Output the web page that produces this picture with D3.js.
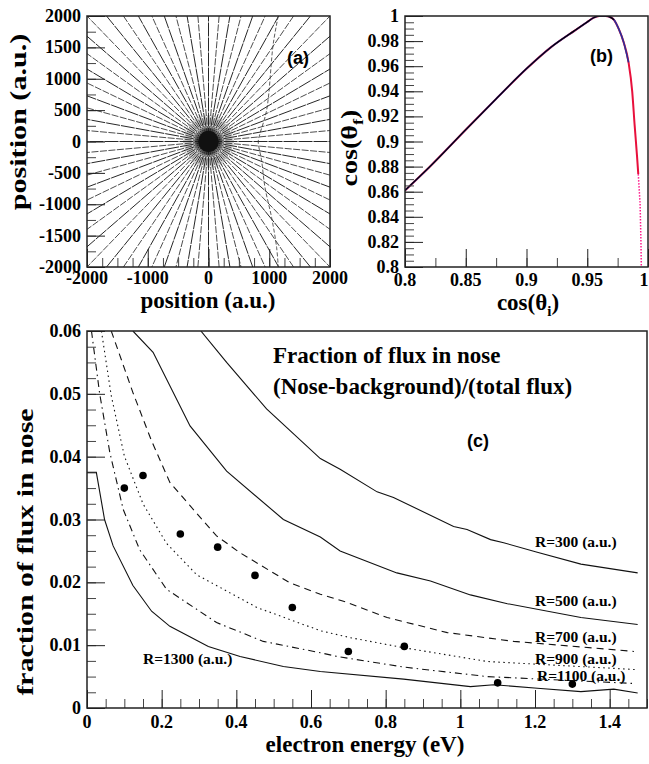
<!DOCTYPE html>
<html>
<head>
<meta charset="utf-8">
<script src="https://cdn.jsdelivr.net/npm/d3@7"></script>
<style>
body { margin: 0; background: #fff; }
svg text { font-family: "Liberation Serif", "Times New Roman", serif; font-weight: bold; }
svg text.tag { font-family: "Liberation Sans", Arial, sans-serif; }
</style>
</head>
<body>
<script>
// ---- panel (a): electron trajectories, angles in degrees ----
var rayAngles = [0,5,10,15,20,25,30,35,40,45,50,55,60,65,70,75,80,85,90,95,100,105,110,115,
  120,125,130,135,140,145,150,155,160,165,170,175,180,185,190,195,200,205,210,215,220,225,230,235,
  240,245,250,255,260,265,270,275,280,285,290,295,300,305,310,315,320,325,330,335,340,345,350,355];
var innerAngles = [2.5,7.5,12.5,17.5,22.5,27.5,32.5,37.5,42.5,47.5,52.5,57.5,62.5,67.5,72.5,77.5,
  82.5,87.5,92.5,97.5,102.5,107.5,112.5,117.5,122.5,127.5,132.5,137.5,142.5,147.5,152.5,157.5,
  162.5,167.5,172.5,177.5,182.5,187.5,192.5,197.5,202.5,207.5,212.5,217.5,222.5,227.5,232.5,237.5,
  242.5,247.5,252.5,257.5,262.5,267.5,272.5,277.5,282.5,287.5,292.5,297.5,302.5,307.5,312.5,317.5,
  322.5,327.5,332.5,337.5,342.5,347.5,352.5,357.5];
var bendX = [1148,1066,956,846,819,874,929,1038,1121,1148];
var bendY = [2000,1559,495,122,0,-303,-729,-1207,-1686,-2000];
var posTicksX = [-2000,-1000,0,1000,2000];
var posTicksY = [-2000,-1500,-1000,-500,0,500,1000,1500,2000];

// ---- panel (b): cos(theta_f) vs cos(theta_i) ----
var cosI = [0.8,0.82,0.85,0.875,0.9,0.92,0.94,0.95,0.955,0.96,0.965,0.968,0.972,0.976,0.98,0.984,0.987,0.989,0.991,0.992];
var cosF = [0.861,0.8795,0.9094,0.934,0.958,0.975,0.9886,0.9952,0.9985,1.0,1.0,0.9995,0.997,0.9895,0.979,0.963,0.94,0.913,0.888,0.874];
var tailI = [0.992,0.9935,0.9942,0.9945];
var tailF = [0.874,0.85,0.82,0.80];
var blackEnd = 0.972, blueEnd = 0.985;
var cosTicksX = [0.8,0.85,0.9,0.95,1];
var cosTicksY = [0.8,0.82,0.84,0.86,0.88,0.9,0.92,0.94,0.96,0.98,1];

// ---- panel (c): fraction of flux in nose vs electron energy ----
var r300 = [[0.305,0.06],[0.374,0.055],[0.481,0.0476],[0.625,0.0397],[0.678,0.038],[0.777,0.0344],[0.821,0.0335],
  [0.982,0.0289],[1.018,0.0284],[1.081,0.0268],[1.116,0.0263],[1.206,0.0248],[1.323,0.0229],[1.475,0.0215]];
var r500 = [[0.123,0.06],[0.177,0.0566],[0.276,0.0449],[0.374,0.0377],[0.526,0.030],[0.625,0.0272],[0.678,0.025],
  [0.83,0.0215],[0.92,0.0202],[1.027,0.018],[1.126,0.0166],[1.323,0.0144],[1.475,0.0133]];
var r700 = [[0.065,0.06],[0.123,0.0502],[0.173,0.0425],[0.222,0.0359],[0.276,0.0322],[0.347,0.0274],[0.41,0.0247],
  [0.544,0.0199],[0.625,0.0181],[0.687,0.017],[0.804,0.0144],[0.965,0.012],[1.143,0.0106],[1.465,0.009]];
var r900 = [[0.0386,0.06],[0.065,0.0497],[0.1,0.0401],[0.15,0.0325],[0.213,0.0262],[0.294,0.0212],[0.455,0.016],
  [0.625,0.0123],[0.705,0.0112],[0.848,0.0096],[1.072,0.0074],[1.475,0.0061]];
var r1100 = [[0.012,0.06],[0.034,0.050],[0.061,0.0407],[0.097,0.0316],[0.141,0.0252],[0.213,0.0189],[0.347,0.0136],
  [0.472,0.0106],[0.625,0.0088],[0.67,0.0082],[0.85,0.0065],[1.072,0.005],[1.465,0.0039]];
var r1300 = [[0,0.0375],[0.025,0.0375],[0.047,0.030],[0.07,0.0258],[0.123,0.0195],[0.173,0.0154],[0.222,0.013],
  [0.325,0.0098],[0.41,0.0082],[0.526,0.0066],[0.625,0.0058],[0.848,0.0046],[1.027,0.0034],[1.09,0.0037],
  [1.215,0.0031],[1.323,0.0026],[1.411,0.003],[1.475,0.0024]];
var dotE = [0.1,0.15,0.25,0.35,0.45,0.55,0.70,0.85,1.1,1.3];
var dotF = [0.035,0.037,0.0277,0.0256,0.0211,0.016,0.009,0.0098,0.004,0.0038];
var curveNames = ["R=300 (a.u.)","R=500 (a.u.)","R=700 (a.u.)","R=900 (a.u.)","R=1100 (a.u.)","R=1300 (a.u.)"];
var energyTicks = [0,0.2,0.4,0.6,0.8,1,1.2,1.4];
var fluxTicks = [0,0.01,0.02,0.03,0.04,0.05,0.06];

var W = 649, H = 764;
var svg = d3.select("body").append("svg")
  .attr("width", W)
  .attr("height", H);
svg.append("rect").attr("width", W).attr("height", H).attr("fill", "#fff");

// inward ROOT-like tick marks (d3 axes), labels written as plain svg text
function styleTicks(s, col) {
  s.select(".domain").remove();
  s.selectAll("text").remove();
  s.selectAll("line").attr("stroke", col);
}

function axes(g, x, y, xMajor, xMinor, yMajor, yMinor, xLabelY) {
  var x0 = x.range()[0], y0 = y.range()[0];
  g.append("g").attr("transform", "translate(0," + y0 + ")")
    .call(d3.axisBottom(x).tickValues(xMinor).tickSize(-9).tickFormat(""))
    .call(styleTicks, "#444");
  g.append("g").attr("transform", "translate(0," + y0 + ")")
    .call(d3.axisBottom(x).tickValues(xMajor).tickSize(-18).tickFormat(""))
    .call(styleTicks, "#222");
  g.append("g").attr("transform", "translate(" + x0 + ",0)")
    .call(d3.axisLeft(y).tickValues(yMinor).tickSize(-9).tickFormat(""))
    .call(styleTicks, "#444");
  g.append("g").attr("transform", "translate(" + x0 + ",0)")
    .call(d3.axisLeft(y).tickValues(yMajor).tickSize(-18).tickFormat(""))
    .call(styleTicks, "#222");

  g.selectAll(".xl").data(xMajor).enter().append("text")
    .attr("class", "xl")
    .attr("x", function(d) { return Math.min(x(d), W - 5); })
    .attr("y", xLabelY)
    .attr("text-anchor", "middle")
    .attr("font-size", 18)
    .text(String);
  g.selectAll(".yl").data(yMajor).enter().append("text")
    .attr("class", "yl")
    .attr("x", x0 - 6)
    .attr("y", function(d) { return y(d) + 6; })
    .attr("text-anchor", "end")
    .attr("font-size", 18)
    .text(String);
}

function frame(x, y) {
  svg.append("rect")
    .attr("x", x.range()[0]).attr("y", y.range()[1])
    .attr("width", x.range()[1] - x.range()[0])
    .attr("height", y.range()[0] - y.range()[1])
    .attr("fill", "none").attr("stroke", "#222").attr("stroke-width", 1.5);
}

function clip(id, x, y) {
  svg.append("clipPath").attr("id", id).append("rect")
    .attr("x", x.range()[0]).attr("y", y.range()[1])
    .attr("width", x.range()[1] - x.range()[0])
    .attr("height", y.range()[0] - y.range()[1]);
}

function yTitle(cx, cy, size, stretch, parts) {
  var t = svg.append("text")
    .attr("transform", "translate(" + cx + "," + cy + ") rotate(-90) scale(" + stretch + ",1)")
    .attr("text-anchor", "middle").attr("font-size", size);
  parts(t);
}

// ================= panel (a) =================
var xa = d3.scaleLinear().domain([-2000, 2000]).range([87, 330]);
var ya = d3.scaleLinear().domain([-2000, 2000]).range([267, 16]);
clip("clipA", xa, ya);
var ga = svg.append("g").attr("clip-path", "url(#clipA)");

ga.selectAll(".spoke").data(innerAngles).enter().append("line")
  .attr("class", "spoke")
  .attr("x1", xa(0)).attr("y1", ya(0))
  .attr("x2", function(d) { return xa(420 * Math.cos(d * Math.PI / 180)); })
  .attr("y2", function(d) { return ya(420 * Math.sin(d * Math.PI / 180)); })
  .attr("stroke", "#999").attr("stroke-width", 0.6);

ga.selectAll(".ray").data(rayAngles).enter().append("line")
  .attr("class", "ray")
  .attr("x1", xa(0)).attr("y1", ya(0))
  .attr("x2", function(d) { return xa(3000 * Math.cos(d * Math.PI / 180)); })
  .attr("y2", function(d) { return ya(3000 * Math.sin(d * Math.PI / 180)); })
  .attr("stroke", "#000")
  .attr("stroke-width", function(d, i) { return i % 2 ? 0.7 : 0.85; })
  .attr("stroke-dasharray", function(d, i) { return i % 2 ? "7,1.5" : "14,1"; });

ga.append("path")
  .datum(d3.range(bendX.length))
  .attr("d", d3.line().x(function(i) { return xa(bendX[i]); }).y(function(i) { return ya(bendY[i]); }).curve(d3.curveCatmullRom))
  .attr("fill", "none").attr("stroke", "#333").attr("stroke-width", 0.8).attr("stroke-dasharray", "4,2");

ga.append("ellipse")
  .attr("cx", xa(0)).attr("cy", ya(0))
  .attr("rx", xa(170) - xa(0)).attr("ry", ya(0) - ya(170))
  .attr("fill", "#111");

axes(svg.append("g"), xa, ya, posTicksX, d3.range(-2000, 2001, 250), posTicksY, d3.range(-2000, 2001, 250), 284);
frame(xa, ya);

svg.append("text").attr("x", 208).attr("y", 308).attr("text-anchor", "middle")
  .attr("font-size", 23).text("position (a.u.)");
yTitle(26, 122, 23, 1.31, function(t) { t.text("position (a.u.)"); });
svg.append("text").attr("class", "tag").attr("x", 287).attr("y", 64)
  .attr("font-size", 18).text("(a)");

// ================= panel (b) =================
var xb = d3.scaleLinear().domain([0.8, 1]).range([405, 648]);
var yb = d3.scaleLinear().domain([0.8, 1]).range([267, 16]);
clip("clipB", xb, yb);
var gb = svg.append("g").attr("clip-path", "url(#clipB)");
var lineB = d3.line().x(function(i) { return xb(cosI[i]); }).y(function(i) { return yb(cosF[i]); })
  .curve(d3.curveMonotoneX);
var idx = d3.range(cosI.length);

gb.append("path").datum(idx).attr("d", lineB)
  .attr("fill", "none").attr("stroke", "#e8103c").attr("stroke-width", 2);
gb.append("path").datum(idx.filter(function(i) { return cosI[i] <= blueEnd; })).attr("d", lineB)
  .attr("fill", "none").attr("stroke", "#2a2f9a").attr("stroke-width", 1.6);
gb.append("path").datum(idx.filter(function(i) { return cosI[i] <= blackEnd; })).attr("d", lineB)
  .attr("fill", "none").attr("stroke", "#000").attr("stroke-width", 1.1);
gb.append("path").datum(d3.range(tailI.length))
  .attr("d", d3.line().x(function(i) { return xb(tailI[i]); }).y(function(i) { return yb(tailF[i]); }))
  .attr("fill", "none").attr("stroke", "#ff1a8c").attr("stroke-width", 1.5).attr("stroke-dasharray", "1.5,1.5");

axes(svg.append("g"), xb, yb, cosTicksX, d3.range(0.8, 1.0001, 0.025), cosTicksY, d3.range(0.8, 1.0001, 0.005), 286);
frame(xb, yb);

var xtb = svg.append("text").attr("x", 528).attr("y", 310).attr("text-anchor", "middle").attr("font-size", 23);
xtb.append("tspan").text("cos(θ");
xtb.append("tspan").attr("font-size", 15).attr("dy", 6).text("i");
xtb.append("tspan").attr("dy", -6).text(")");
yTitle(357, 148, 23, 1.22, function(t) {
  t.append("tspan").text("cos(θ");
  t.append("tspan").attr("font-size", 15).attr("dy", 6).text("f");
  t.append("tspan").attr("dy", -6).text(")");
});
svg.append("text").attr("class", "tag").attr("x", 590).attr("y", 62)
  .attr("font-size", 18).text("(b)");

// ================= panel (c) =================
var xc = d3.scaleLinear().domain([0, 1.5]).range([87, 647]);
var yc = d3.scaleLinear().domain([0, 0.06]).range([708, 331]);
clip("clipC", xc, yc);
var gc = svg.append("g").attr("clip-path", "url(#clipC)");
var lineC = d3.line().x(function(d) { return xc(d[0]); }).y(function(d) { return yc(d[1]); });
var curves = [r300, r500, r700, r900, r1100, r1300];
var dashes = [null, null, "7,5", "1.5,3.5", "7,4,1.5,4", null];

gc.selectAll(".rc").data(curves).enter().append("path")
  .attr("class", "rc")
  .attr("d", lineC)
  .attr("fill", "none").attr("stroke", "#111").attr("stroke-width", 1.1)
  .attr("stroke-dasharray", function(d, i) { return dashes[i]; });

gc.selectAll(".pt").data(dotE).enter().append("circle")
  .attr("class", "pt")
  .attr("cx", function(d) { return xc(d); })
  .attr("cy", function(d, i) { return yc(dotF[i]); })
  .attr("r", 3.8).attr("fill", "#000");

axes(svg.append("g"), xc, yc, energyTicks, d3.range(0, 1.5001, 0.05), fluxTicks, d3.range(0, 0.06001, 0.0025), 728);
frame(xc, yc);

var labelPos = [[535, 547], [535, 606], [535, 642], [535, 664], [537, 681], [143, 664]];
svg.selectAll(".rl").data(curveNames).enter().append("text")
  .attr("class", "rl")
  .attr("x", function(d, i) { return labelPos[i][0]; })
  .attr("y", function(d, i) { return labelPos[i][1]; })
  .attr("font-size", 15.5)
  .text(function(d) { return d; });

svg.append("text").attr("x", 273).attr("y", 363).attr("font-size", 23).text("Fraction of flux in nose");
svg.append("text").attr("x", 273).attr("y", 394).attr("font-size", 23).text("(Nose-background)/(total flux)");
svg.append("text").attr("class", "tag").attr("x", 467).attr("y", 447)
  .attr("font-size", 18).text("(c)");

svg.append("text").attr("x", 365).attr("y", 752).attr("text-anchor", "middle")
  .attr("font-size", 23).text("electron energy (eV)");
yTitle(33, 552, 23, 1.3, function(t) { t.text("fraction of flux in nose"); });
</script>
</body>
</html>
